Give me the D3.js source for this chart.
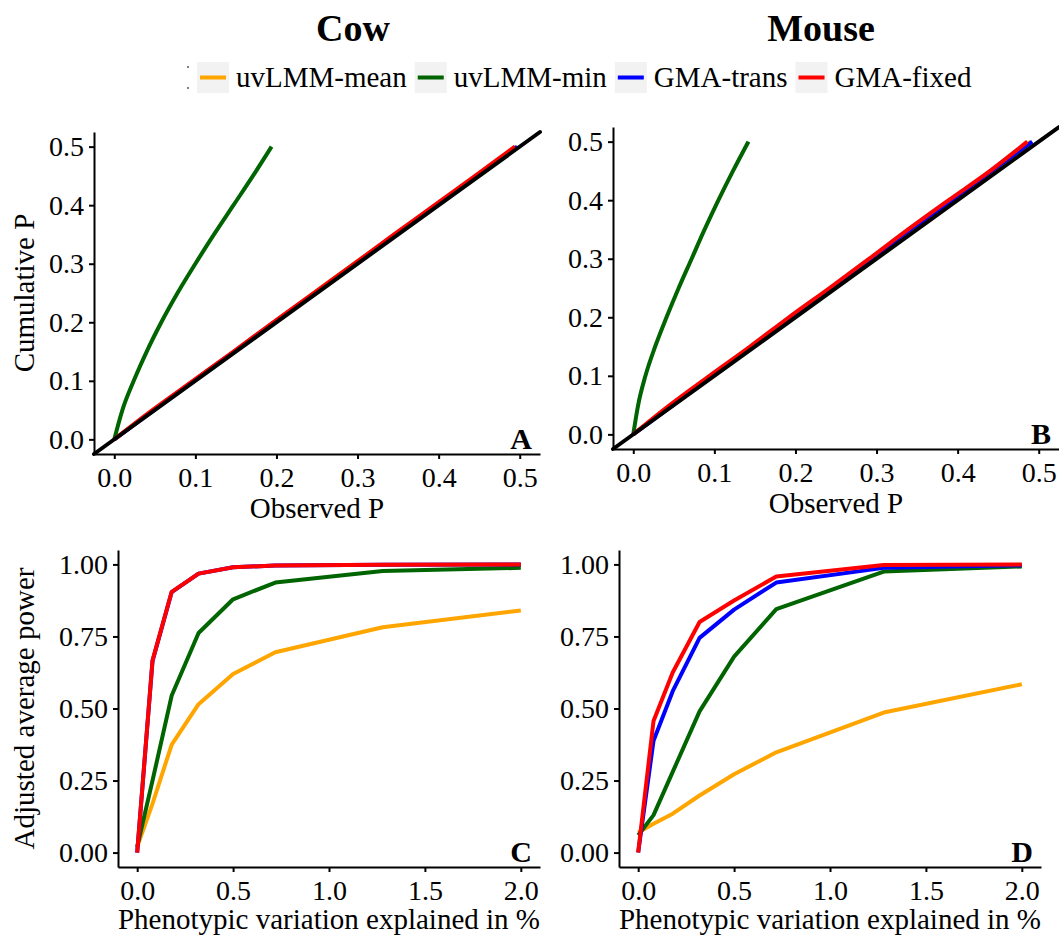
<!DOCTYPE html>
<html>
<head>
<meta charset="utf-8">
<script src="https://cdn.jsdelivr.net/npm/d3@7"></script>
<style>
  body { margin: 0; background: #fff; }
  svg text { font-family: "Liberation Serif", "Times New Roman", serif; fill: #000; }
</style>
</head>
<body>
<div id="chart"></div>
<script>
// methods and colours
var methods = ["uvLMM-mean", "uvLMM-min", "GMA-trans", "GMA-fixed"];
var colors = ["#FFA500", "#006400", "#0000FF", "#FF0000"];

var cumP = [0, 0.05, 0.1, 0.15, 0.2, 0.25, 0.3, 0.35, 0.4, 0.45, 0.5];
var cowObsMean  = [0, 0.048, 0.098, 0.148, 0.197, 0.246, 0.296, 0.346, 0.396, 0.446, 0.495];
var cowObsMin   = [0, 0.010, 0.024, 0.040, 0.058, 0.078, 0.100, 0.123, 0.147, 0.171, 0.194];
var cowObsTrans = [0, 0.049, 0.098, 0.148, 0.197, 0.247, 0.297, 0.347, 0.397, 0.447, 0.497];
var cowObsFixed = [0, 0.047, 0.097, 0.147, 0.196, 0.246, 0.296, 0.345, 0.395, 0.445, 0.494];
var mouseObsMean  = [0, 0.048, 0.097, 0.146, 0.195, 0.245, 0.296, 0.345, 0.395, 0.443, 0.490];
var mouseObsMin   = [0, 0.006, 0.015, 0.027, 0.041, 0.056, 0.072, 0.088, 0.105, 0.123, 0.142];
var mouseObsTrans = [0, 0.049, 0.097, 0.147, 0.195, 0.244, 0.294, 0.342, 0.393, 0.442, 0.492];
var mouseObsFixed = [0, 0.045, 0.094, 0.144, 0.192, 0.242, 0.291, 0.339, 0.389, 0.440, 0.486];

// adjusted average power vs phenotypic variation explained (%), panels C and D
var pve = [0, 0.08, 0.18, 0.32, 0.5, 0.72, 1.28, 2.0];
var cowPowMean  = [0.02, 0.17, 0.375, 0.515, 0.62, 0.695, 0.782, 0.84];
var cowPowMin   = [0.02, 0.25, 0.545, 0.762, 0.879, 0.937, 0.977, 0.988];
var cowPowTrans = [0, 0.665, 0.904, 0.968, 0.99, 0.996, 0.999, 1.0];
var cowPowFixed = [0, 0.667, 0.905, 0.968, 0.99, 0.996, 0.999, 1.0];
var mousePowMean  = [0.07, 0.10, 0.135, 0.198, 0.272, 0.348, 0.486, 0.584];
var mousePowMin   = [0.06, 0.13, 0.28, 0.49, 0.68, 0.845, 0.975, 0.993];
var mousePowTrans = [0, 0.388, 0.56, 0.745, 0.843, 0.937, 0.988, 0.997];
var mousePowFixed = [0, 0.457, 0.625, 0.80, 0.875, 0.958, 0.998, 1.0];

// tick values
var qqTicks = [0, 0.1, 0.2, 0.3, 0.4, 0.5];
var powTicks = [0, 0.25, 0.5, 0.75, 1];
var pveTicks = [0, 0.5, 1, 1.5, 2];

var WIDTH = 1059, HEIGHT = 941;

var svg = d3.select("#chart").append("svg")
    .attr("width", WIDTH)
    .attr("height", HEIGHT);

// column titles
svg.append("text").attr("x", 353).attr("y", 41).attr("text-anchor", "middle")
    .style("font-size", "38px").style("font-weight", "bold").text("Cow");
svg.append("text").attr("x", 821).attr("y", 41).attr("text-anchor", "middle")
    .style("font-size", "38px").style("font-weight", "bold").text("Mouse");

// legend (the little mark left of the keys is in the original too)
var legend = svg.append("g").attr("class", "legend");
legend.append("circle").attr("cx", 188).attr("cy", 67).attr("r", 0.9).attr("fill", "#444");
legend.append("circle").attr("cx", 188).attr("cy", 88).attr("r", 0.9).attr("fill", "#444");
var lx = 197;
methods.forEach(function (m, i) {
    legend.append("rect").attr("x", lx).attr("y", 62).attr("width", 32).attr("height", 31)
        .attr("fill", "#f2f2f2");
    legend.append("line").attr("x1", lx + 3).attr("x2", lx + 29).attr("y1", 77.5).attr("y2", 77.5)
        .attr("stroke", colors[i]).attr("stroke-width", 4);
    var t = legend.append("text").attr("x", lx + 39).attr("y", 87)
        .style("font-size", "29px").text(m);
    lx += 39 + t.node().getComputedTextLength() + 8;
});

function zipXY(xs, ys) {
    return xs.map(function (v, i) { return { x: v, y: ys[i] }; });
}

var panels = [
    { tag: "A", xr: [94, 540], yr: [454, 132], xd: [-0.025, 0.525], yd: [-0.025, 0.525],
      xt: qqTicks, yt: qqTicks, fx: ".1f", fy: ".1f", diag: true,
      xlab: "Observed P", xlabY: 518, ylab: "Cumulative P",
      series: [zipXY(cowObsMean, cumP), zipXY(cowObsMin, cumP), zipXY(cowObsTrans, cumP), zipXY(cowObsFixed, cumP)] },
    { tag: "B", xr: [613, 1059], yr: [449, 127], xd: [-0.025, 0.525], yd: [-0.025, 0.525],
      xt: qqTicks, yt: qqTicks, fx: ".1f", fy: ".1f", diag: true,
      xlab: "Observed P", xlabY: 513, ylab: null,
      series: [zipXY(mouseObsMean, cumP), zipXY(mouseObsMin, cumP), zipXY(mouseObsTrans, cumP), zipXY(mouseObsFixed, cumP)] },
    { tag: "C", xr: [118, 540], yr: [867, 550], xd: [-0.1, 2.1], yd: [-0.05, 1.05],
      xt: pveTicks, yt: powTicks, fx: ".1f", fy: ".2f", diag: false,
      xlab: "Phenotypic variation explained in %", xlabY: 929, ylab: "Adjusted average power",
      series: [zipXY(pve, cowPowMean), zipXY(pve, cowPowMin), zipXY(pve, cowPowTrans), zipXY(pve, cowPowFixed)] },
    { tag: "D", xr: [619, 1041], yr: [867, 550], xd: [-0.1, 2.1], yd: [-0.05, 1.05],
      xt: pveTicks, yt: powTicks, fx: ".1f", fy: ".2f", diag: false,
      xlab: "Phenotypic variation explained in %", xlabY: 929, ylab: null,
      series: [zipXY(pve, mousePowMean), zipXY(pve, mousePowMin), zipXY(pve, mousePowTrans), zipXY(pve, mousePowFixed)] }
];

panels.forEach(function (p) {
    var x = d3.scaleLinear().domain(p.xd).range(p.xr);
    var y = d3.scaleLinear().domain(p.yd).range(p.yr);
    var g = svg.append("g").attr("class", "panel " + p.tag);

    // QQ curves are smooth in the original, power curves are straight segments
    var line = d3.line()
        .x(function (d) { return x(d.x); })
        .y(function (d) { return y(d.y); })
        .curve(p.diag ? d3.curveMonotoneX : d3.curveLinear);

    // data lines
    p.series.forEach(function (s, i) {
        g.append("path").datum(s)
            .attr("d", line)
            .attr("fill", "none")
            .attr("stroke", colors[i])
            .attr("stroke-width", 4)
            .attr("stroke-linejoin", "round");
    });

    // identity line on top
    if (p.diag) {
        g.append("line")
            .attr("x1", x(p.xd[0])).attr("y1", y(p.yd[0]))
            .attr("x2", x(p.xd[1])).attr("y2", y(p.yd[1]))
            .attr("stroke", "#000")
            .attr("stroke-width", 4)
            .attr("stroke-linecap", "round");
    }

    // axes
    var xAxis = g.append("g").attr("transform", "translate(0," + p.yr[0] + ")")
        .call(d3.axisBottom(x).tickValues(p.xt).tickFormat(d3.format(p.fx))
            .tickSize(5).tickSizeOuter(0).tickPadding(8));
    var yAxis = g.append("g").attr("transform", "translate(" + p.xr[0] + ",0)")
        .call(d3.axisLeft(y).tickValues(p.yt).tickFormat(d3.format(p.fy))
            .tickSize(5).tickSizeOuter(0).tickPadding(5));
    [xAxis, yAxis].forEach(function (a) {
        a.select(".domain").attr("stroke", "#000").attr("stroke-width", 2);
        a.selectAll(".tick line").attr("stroke", "#000").attr("stroke-width", 2);
        a.selectAll("text").style("font-size", "28px").style("font-family", "'Liberation Serif', serif")
            .attr("fill", "#000");
    });

    // panel letter
    g.append("text").attr("x", p.xr[1] - 8).attr("y", p.yr[0] - 5)
        .attr("text-anchor", "end")
        .style("font-size", "30px").style("font-weight", "bold").text(p.tag);

    // axis titles
    g.append("text").attr("x", (p.xr[0] + p.xr[1]) / 2).attr("y", p.xlabY)
        .attr("text-anchor", "middle").style("font-size", "29px").text(p.xlab);
    if (p.ylab) {
        g.append("text")
            .attr("transform", "translate(34," + (p.yr[0] + p.yr[1]) / 2 + ")rotate(-90)")
            .attr("text-anchor", "middle").style("font-size", "29px").text(p.ylab);
    }
});
</script>
</body>
</html>
